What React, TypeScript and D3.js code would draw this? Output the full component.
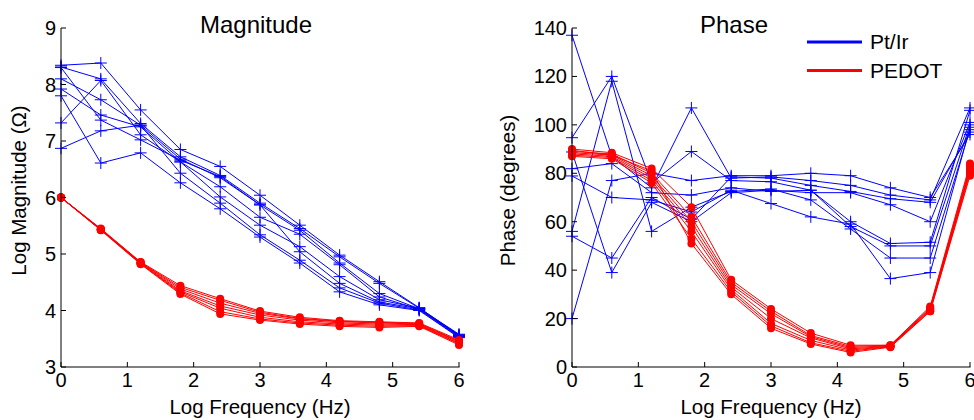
import React from "react";
import * as d3 from "d3";

const logFreq = [0, 0.6, 1.2, 1.8, 2.4, 3.0, 3.6, 4.2, 4.8, 5.4, 6.0];

const magPtIr = [
  [8.34, 8.38, 7.55, 6.85, 6.55, 6.04, 5.51, 4.98, 4.51, 4.05, 3.56],
  [8.31, 8.10, 7.31, 6.72, 6.39, 5.90, 5.45, 4.95, 4.48, 4.04, 3.55],
  [8.10, 7.73, 7.28, 6.68, 6.35, 5.87, 5.42, 4.84, 4.30, 4.03, 3.54],
  [7.92, 7.46, 7.25, 6.63, 6.19, 5.65, 5.35, 4.81, 4.24, 4.02, 3.56],
  [7.80, 6.61, 6.79, 6.26, 5.80, 5.30, 4.84, 4.33, 4.10, 4.00, 3.52],
  [7.32, 8.07, 7.11, 6.63, 6.01, 5.51, 5.13, 4.60, 4.19, 4.04, 3.58],
  [6.87, 7.18, 7.28, 6.43, 5.90, 5.34, 4.89, 4.40, 4.13, 4.01, 3.53],
  [8.30, 7.37, 7.02, 6.66, 6.37, 5.87, 5.04, 4.48, 4.15, 4.03, 3.57],
];

const magPedot = [
  [6.0, 5.45, 4.86, 4.44, 4.21, 3.99, 3.88, 3.82, 3.80, 3.78, 3.48],
  [6.0, 5.44, 4.85, 4.41, 4.18, 3.97, 3.86, 3.81, 3.79, 3.77, 3.46],
  [6.0, 5.44, 4.85, 4.38, 4.13, 3.95, 3.85, 3.80, 3.78, 3.76, 3.45],
  [6.0, 5.43, 4.84, 4.35, 4.08, 3.92, 3.83, 3.78, 3.76, 3.75, 3.44],
  [6.0, 5.43, 4.83, 4.33, 4.04, 3.88, 3.80, 3.76, 3.74, 3.74, 3.42],
  [6.0, 5.43, 4.83, 4.31, 3.98, 3.85, 3.78, 3.74, 3.72, 3.73, 3.41],
  [6.0, 5.42, 4.82, 4.29, 3.94, 3.83, 3.76, 3.72, 3.70, 3.72, 3.39],
];

const phasePtIr = [
  [137, 87, 74, 107, 78, 78.5, 77, 75, 71, 69, 107],
  [94.7, 120, 76, 89, 77, 76.5, 73, 60, 51, 51.5, 106],
  [88.8, 39, 68, 60, 72, 73, 72, 72, 67, 60, 101],
  [81.9, 84, 72, 71, 74, 72.5, 73, 58, 50, 50, 100],
  [78.9, 70, 69, 64, 73, 67.5, 62, 59, 36.5, 39, 99],
  [56, 118, 56, 66, 72.5, 73.5, 69, 57, 45, 45, 98],
  [54, 45, 70, 61, 78.5, 78, 75, 72.5, 69.5, 68, 97],
  [20, 77, 80, 77, 79, 79, 80, 79, 74, 70, 96],
];

const phasePedot = [
  [90, 88.5, 82, 66, 36, 24, 14, 9, 9, 25, 84],
  [89, 88, 80, 62, 35, 23, 13, 8.5, 9, 24.5, 83],
  [88.5, 87.5, 79, 60, 34, 22, 12.5, 8, 8.8, 24, 82],
  [88, 87, 78, 58, 33, 20, 12, 7.5, 8.6, 24, 81.5],
  [87.5, 86.5, 77, 56, 32, 18, 11, 7, 8.5, 23.5, 81],
  [87, 86, 76, 53, 31, 17, 10, 6.5, 8.4, 23, 80],
  [89.5, 87.5, 81, 51, 30, 16, 9.5, 6, 8.2, 23, 79],
];

const xTicks = [0, 1, 2, 3, 4, 5, 6];
const magTicks = [3, 4, 5, 6, 7, 8, 9];
const phaseTicks = [0, 20, 40, 60, 80, 100, 120, 140];
const legendLabels = ["Pt/Ir", "PEDOT"];

const BLUE = "#0000ff";
const RED = "#ff0000";
const FONT = "Liberation Sans, Arial, Helvetica, sans-serif";

type PanelProps = {
  x0: number;
  x1: number;
  yDomain: [number, number];
  yTicks: number[];
  blue: number[][];
  red: number[][];
  title: string;
  titleX: number;
  ylabel: string;
  ylabelX: number;
};

const TOP = 28;
const BOTTOM = 367;

function Panel(p: PanelProps) {
  const x = d3.scaleLinear().domain([0, 6]).range([p.x0, p.x1]);
  const y = d3.scaleLinear().domain(p.yDomain).range([BOTTOM, TOP]);
  const line = d3
    .line<number>()
    .x((_, i) => x(logFreq[i]))
    .y((d) => y(d));
  return (
    <g>
      {p.blue.map((s, k) => (
        <g key={"b" + k}>
          <path d={line(s) || ""} fill="none" stroke={BLUE} strokeWidth={1} />
          {s.map((v, i) => (
            <path
              key={i}
              d={`M${x(logFreq[i]) - 6},${y(v)}H${x(logFreq[i]) + 6}M${x(logFreq[i])},${y(v) - 6}V${y(v) + 6}`}
              stroke={BLUE}
              strokeWidth={1}
            />
          ))}
        </g>
      ))}
      {p.red.map((s, k) => (
        <g key={"r" + k}>
          <path d={line(s) || ""} fill="none" stroke={RED} strokeWidth={1} />
          {s.map((v, i) => (
            <circle key={i} cx={x(logFreq[i])} cy={y(v)} r={4} fill={RED} />
          ))}
        </g>
      ))}
      <line x1={p.x0} x2={p.x0} y1={TOP} y2={BOTTOM} stroke="#000" strokeWidth={1} />
      <line x1={p.x0} x2={p.x1 + 0.5} y1={BOTTOM} y2={BOTTOM} stroke="#000" strokeWidth={1} />
      {xTicks.map((t) => (
        <g key={"xt" + t}>
          <line x1={x(t)} x2={x(t)} y1={BOTTOM} y2={BOTTOM - 5} stroke="#000" />
          <text x={x(t)} y={BOTTOM + 20} textAnchor="middle" fontSize={20} fontFamily={FONT} fill="#000">
            {t}
          </text>
        </g>
      ))}
      {p.yTicks.map((t) => (
        <g key={"yt" + t}>
          <line x1={p.x0} x2={p.x0 + 5} y1={y(t)} y2={y(t)} stroke="#000" />
          <text x={p.x0 - 5} y={y(t) + 7} textAnchor="end" fontSize={20} fontFamily={FONT} fill="#000">
            {t}
          </text>
        </g>
      ))}
      <text x={p.titleX} y={33} textAnchor="middle" fontSize={24} fontFamily={FONT} fill="#000">
        {p.title}
      </text>
      <text x={(p.x0 + p.x1) / 2} y={414} textAnchor="middle" fontSize={20.5} fontFamily={FONT} fill="#000">
        Log Frequency (Hz)
      </text>
      <text
        transform={`translate(${p.ylabelX},${(TOP + BOTTOM) / 2 - 7}) rotate(-90)`}
        textAnchor="middle"
        fontSize={20.5}
        fontFamily={FONT}
        fill="#000"
      >
        {p.ylabel}
      </text>
    </g>
  );
}

export default function App() {
  return (
    <svg
      width={974}
      height={420}
      style={{ position: "absolute", left: 0, top: 0, background: "#fff" }}
    >
      <rect width={974} height={420} fill="#fff" />
      <Panel
        x0={61}
        x1={459}
        yDomain={[3, 9]}
        yTicks={magTicks}
        blue={magPtIr}
        red={magPedot}
        title="Magnitude"
        titleX={256}
        ylabel="Log Magnitude (Ω)"
        ylabelX={26}
      />
      <Panel
        x0={572}
        x1={970}
        yDomain={[0, 140]}
        yTicks={phaseTicks}
        blue={phasePtIr}
        red={phasePedot}
        title="Phase"
        titleX={734}
        ylabel="Phase (degrees)"
        ylabelX={515}
      />
      {legendLabels.map((l, i) => (
        <g key={l}>
          <line x1={807} x2={862} y1={42 + i * 28.5} y2={42 + i * 28.5} stroke={i === 0 ? BLUE : RED} strokeWidth={3} />
          <text x={870} y={49 + i * 28.5} fontSize={21} fontFamily={FONT} fill="#000">
            {l}
          </text>
        </g>
      ))}
    </svg>
  );
}
